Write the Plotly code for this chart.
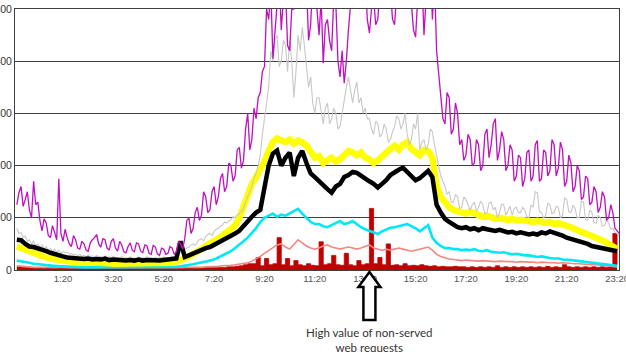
import plotly.graph_objects as go

# sampling grids (minutes relative to midnight): 10-min for smooth series, 5-min for the noisy ones
START_MIN = -30
hours10 = [(START_MIN + 10 * i) / 60 for i in range(144)]
hours5 = [(START_MIN + 5 * i) / 60 for i in range(288)]

tick_labels = ["1:20", "3:20", "5:20", "7:20", "9:20", "11:20", "13:20",
               "15:20", "17:20", "19:20", "21:20", "23:20"]

# 5-minute series
magenta = [125,148,160,122,135,150,115,100,170,125,130,95,75,98,90,66,62,85,72,58,175,70,55,78,
           62,50,45,66,58,42,40,55,50,38,36,52,58,62,68,50,44,60,58,42,38,55,60,42,
           36,55,48,35,33,45,52,38,35,52,50,36,33,48,46,32,30,47,44,31,28,42,40,30,
           32,45,42,30,35,55,50,40,60,95,100,70,80,110,120,95,105,150,140,110,115,150,160,125,
           140,175,185,150,160,205,200,170,180,230,235,195,210,270,300,230,250,310,290,330,340,380,390,500,
           480,540,405,470,520,560,460,520,540,430,420,500,500,540,560,600,580,530,550,440,470,560,520,500,
           450,520,396,470,480,440,420,520,510,400,370,420,358,400,460,530,560,600,600,540,580,600,560,480,
           454,500,520,470,480,540,510,580,560,600,540,480,470,530,520,560,560,600,570,530,510,460,446,520,
           500,560,450,520,540,600,480,560,420,380,330,290,280,340,330,260,270,320,300,240,250,210,220,260,
           250,200,205,250,240,190,200,260,270,215,240,280,290,210,230,265,250,190,200,240,230,170,180,220,
           215,160,175,225,230,170,180,240,248,170,175,230,225,180,190,250,240,180,195,245,230,160,170,220,
           205,150,160,200,190,135,140,180,175,125,130,160,150,110,120,150,140,95,100,125,110,80,75,70]

gray = [80,70,72,62,65,55,58,50,55,46,50,44,48,40,45,38,42,36,40,34,38,32,35,33,
        34,30,32,29,30,27,30,26,28,25,29,26,27,24,28,25,26,23,27,24,25,23,26,24,
        24,22,26,23,24,22,25,23,23,21,25,23,24,22,25,23,23,22,24,22,24,23,25,23,
        24,23,26,25,28,33,35,38,40,42,44,48,50,47,54,58,60,56,64,68,70,66,74,78,
        80,84,86,92,90,94,96,102,100,106,108,112,118,130,140,150,160,175,185,200,220,260,290,330,
        350,420,400,440,450,390,400,440,430,380,440,400,330,380,450,420,465,430,390,350,370,320,300,330,
        330,300,280,310,320,280,290,310,300,270,275,300,330,350,370,340,320,345,360,320,330,300,310,290,
        290,270,260,285,280,255,260,280,270,245,250,265,275,295,290,270,280,300,260,240,250,280,270,300,
        230,245,250,230,240,270,265,240,220,200,180,170,160,145,150,130,130,145,140,118,120,140,135,125,
        115,125,130,112,120,132,125,108,110,128,130,115,120,100,110,126,125,105,115,122,105,118,120,110,
        110,120,115,102,100,125,120,150,148,112,110,100,105,128,125,108,110,122,120,100,105,138,135,112,
        110,124,118,100,100,132,130,96,95,115,110,90,90,105,100,84,85,95,90,78,80,72,70,65]

# 10-minute series
yellow = [45,42,38,34,30,28,26,24,22,20,19,18,
          17,16,16,15,15,14,14,14,13,13,13,12,
          12,12,12,12,12,12,12,12,12,12,12,13,
          13,14,16,18,22,26,30,36,40,46,50,55,
          60,66,72,78,85,100,125,148,165,178,192,208,
          228,245,252,250,245,250,242,248,245,238,225,215,
          218,205,210,215,208,212,220,228,225,220,225,215,
          212,205,210,218,228,232,238,230,240,245,232,225,
          220,230,228,215,160,140,128,120,115,113,110,108,
          112,108,105,102,104,100,98,100,98,96,98,95,
          96,94,95,92,94,92,90,92,88,90,88,85,
          82,78,75,72,68,65,62,58,55,50,45,40]

black = [58,57,50,45,44,42,40,36,33,30,28,26,
         24,23,22,23,21,22,20,21,20,22,19,20,
         19,20,18,19,18,20,18,19,18,19,18,19,
         20,20,22,55,25,28,32,35,38,42,44,48,
         52,56,60,65,70,75,85,95,102,110,115,158,
         200,223,229,200,215,225,180,215,228,205,185,178,
         170,160,155,148,160,165,178,182,188,186,180,176,
         170,165,158,165,172,182,188,192,196,188,180,172,
         176,182,190,178,125,110,98,92,86,82,80,82,
         78,80,76,80,78,76,75,77,74,72,73,70,
         72,70,68,70,68,72,70,74,72,70,66,62,
         60,58,55,52,50,46,44,42,41,40,38,36]

cyan = [18,17,15,14,12,11,10,9,8,8,7,7,
        6,6,6,5,5,5,5,5,5,5,5,5,
        5,5,5,5,5,5,5,5,5,5,5,5,
        5,5,6,7,8,10,11,13,14,16,18,20,
        24,28,32,36,42,48,55,62,70,80,92,100,
        104,108,102,106,104,108,112,117,108,100,92,88,
        88,84,82,86,90,94,88,90,94,88,82,78,
        75,72,69,74,78,81,82,84,86,88,84,80,
        74,80,86,62,52,46,42,42,40,40,38,39,
        38,40,37,36,38,35,34,33,34,32,30,31,
        29,28,28,26,25,26,24,23,22,22,20,20,
        19,18,17,16,15,14,13,12,12,10,9,8]

salmon = [8,7,6,6,5,5,5,4,4,4,4,4,
          4,4,4,4,4,4,4,4,4,4,4,4,
          4,4,4,4,4,4,4,4,4,4,4,4,
          4,4,4,4,4,4,5,5,5,6,6,7,
          7,8,8,9,10,11,12,14,17,21,26,32,
          37,42,48,50,44,40,50,58,52,46,42,40,
          42,46,48,44,42,40,42,44,42,40,42,45,
          48,42,40,38,40,38,40,42,40,38,36,38,
          40,42,44,38,30,26,23,21,20,19,18,19,
          18,18,17,18,17,17,16,17,16,16,16,15,
          16,15,15,15,14,15,14,14,14,13,14,13,
          13,12,12,11,11,10,10,9,9,8,7,6]

darkred = [6,5,5,4,4,4,3,4,3,3,4,3,
           3,3,3,3,3,3,3,3,3,3,3,3,
           3,3,3,3,3,3,3,3,3,3,3,3,
           3,3,3,3,4,4,4,4,4,5,5,5,
           5,5,6,6,7,8,10,12,12,24,8,22,
           10,12,62,10,22,8,18,10,8,12,9,8,
           54,10,12,28,10,9,32,10,8,18,10,12,
           118,12,24,10,50,9,10,8,12,8,9,8,
           10,8,7,8,6,7,6,6,7,6,6,5,
           6,5,6,5,6,5,8,5,6,5,6,5,
           6,5,6,5,6,5,7,5,6,5,10,6,
           5,6,5,6,5,6,5,6,5,6,70,10]

note_text = "High value of non-served<br>web requests"

X_RANGE = [-0.573, 23.41]
Y_RANGE = [0, 500]


def label_to_hours(s):
    h, m = s.split(":")
    return int(h) + int(m) / 60


tick_vals = [label_to_hours(s) for s in tick_labels]

fig = go.Figure()
fig.add_trace(go.Scatter(x=hours10, y=darkred, mode="lines", line=dict(color="#C00000", width=0.8, shape="hv"),
                         fill="tozeroy", fillcolor="#C00000"))
fig.add_trace(go.Scatter(x=hours10, y=salmon, mode="lines", line=dict(color="#F4877F", width=1.6)))
fig.add_trace(go.Scatter(x=hours10, y=cyan, mode="lines", line=dict(color="#00E8F8", width=2.6)))
fig.add_trace(go.Scatter(x=hours10, y=yellow, mode="lines", line=dict(color="#FFFF00", width=6.5)))
fig.add_trace(go.Scatter(x=hours5, y=gray, mode="lines", line=dict(color="#C8C8C8", width=1.1)))
fig.add_trace(go.Scatter(x=hours10, y=black, mode="lines", line=dict(color="#000000", width=4.5)))
fig.add_trace(go.Scatter(x=hours5, y=magenta, mode="lines", line=dict(color="#C010C0", width=1.3)))

# hollow arrow pointing up at the highest non-served value
spike_x = hours10[darkred.index(max(darkred))]
spike_frac = (spike_x - X_RANGE[0]) / (X_RANGE[1] - X_RANGE[0])
fig.add_shape(type="path", xref="paper", yref="paper", xsizemode="pixel", ysizemode="pixel",
              xanchor=spike_frac, yanchor=0,
              path="M 0 -2 L 11 -17 L 6 -17 L 6 -50 L -6 -50 L -6 -17 L -11 -17 Z",
              line=dict(color="black", width=2.5), fillcolor="white", layer="above")
fig.add_annotation(x=spike_frac, y=0, xref="paper", yref="paper", text=note_text, showarrow=False,
                   yanchor="top", yshift=-54, align="center",
                   font=dict(family="Lato, Liberation Sans, sans-serif", size=11.5, color="#333333"))

fig.update_xaxes(range=X_RANGE, tickvals=tick_vals, ticktext=tick_labels,
                 showgrid=False, zeroline=False, showline=True, mirror=True,
                 linecolor="#404040", linewidth=1, ticks="", ticklabeloverflow="allow",
                 automargin=False,
                 tickfont=dict(family="Liberation Sans, Arial, sans-serif", size=9.5, color="#555555"))
fig.update_yaxes(range=Y_RANGE, dtick=100, showgrid=True, gridcolor="#404040", gridwidth=1,
                 zeroline=False, showline=True, mirror=True, linecolor="#404040", linewidth=1,
                 ticks="", automargin=False, ticklabeloverflow="allow",
                 tickfont=dict(family="Liberation Sans, Arial, sans-serif", size=10.5, color="#333333"))

fig.update_layout(width=626, height=352, margin=dict(l=15, r=7, t=9, b=82),
                  paper_bgcolor="white", plot_bgcolor="white", showlegend=False)

fig.write_html("out.html")
